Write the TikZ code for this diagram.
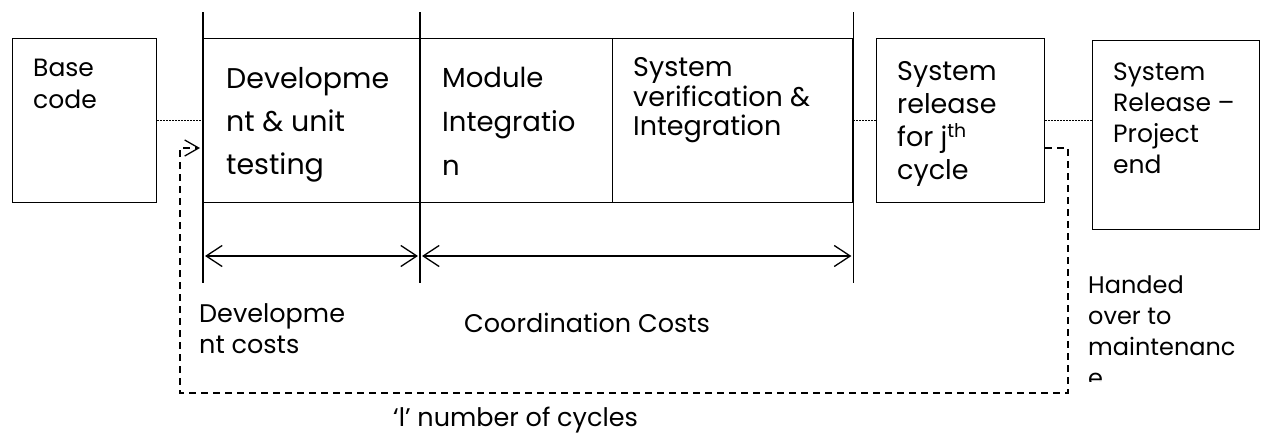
\documentclass[tikz,border=0pt]{standalone}
\usepackage{fontspec}
\setmainfont{Poppins}
\usetikzlibrary{
	positioning,
	arrows.meta
}
\tikzset{
	x=1pt,
	y=-1pt,
	box/.style={
		draw,
		line width=1.4pt,
		anchor=north west,
		inner sep=0pt
	},
	txt/.style 2 args={
		anchor=north west,
		inner sep=0pt,
		align=left,
		font=\fontsize{#1}{#2}\selectfont
	},
	oneline/.style={
		anchor=base west,
		inner sep=0pt,
		font=\fontsize{25.5}{30}\selectfont
	},
	rule/.style={
		line width=1.3pt
	},
	dots/.style={
		line width=1pt,
		dash pattern=on 1.2pt off 1.8pt
	},
	cycle line/.style={
		line width=1.2pt,
		dash pattern=on 7pt off 5pt,
		-{Straight Barb[length=14pt,width=16pt,line width=1.3pt]}
	},
	span/.style={
		line width=1.3pt,
		{Straight Barb[length=16pt,width=21pt]}-{Straight Barb[length=16pt,width=21pt]},
		shorten <=2pt,
		shorten >=2pt
	}
}

\begin{document}
\begin{tikzpicture}
	\useasboundingbox (0,0) rectangle (1261,434);

	% boxes
	\node[box,minimum width=144pt,minimum height=164pt] (base)    at (12,38)   {};
	\node[box,minimum width=217pt,minimum height=164pt] (dev)     at (203,38)  {};
	\node[box,minimum width=192pt,minimum height=164pt] (module)  at (420,38)  {};
	\node[box,minimum width=240pt,minimum height=164pt] (verif)   at (612,38)  {};
	\node[box,minimum width=168pt,minimum height=164pt] (release) at (876,38)  {};
	\node[box,minimum width=167pt,minimum height=189pt] (final)   at (1092,40) {};

	% texts of the boxes
	\node[txt={25}{32}]   (basetxt)    at (33,53.6)   {\strut Base\\code};
	\node[txt={28.5}{43}] (devtxt)     at (226,57.9)  {\strut Developme\\nt \& unit\\testing};
	\node[txt={27.5}{44}] (moduletxt)  at (442,56.2)  {\strut Module\\Integratio\\n};
	\node[txt={27}{29}]   (veriftxt)   at (633,55.7)  {\strut System\\verification \&\\Integration};
	\node[txt={27}{33}]   (releasetxt) at (897,56.9)  {\strut System\\release\\for j\textsuperscript{th}\\cycle};
	\node[txt={25}{31}]   (finaltxt)   at (1113,58.3) {\strut System\\Release --\\Project\\end};

	% phase limits
	\coordinate (top) at (0,12);
	\coordinate (bot) at (0,283);
	\coordinate (arr) at (0,256);
	\draw[rule] (dev.north west |- top) -- (dev.south west |- bot);
	\draw[rule] (module.north west |- top) -- (module.south west |- bot);
	\draw[rule] (verif.north east |- top) -- (verif.south east |- bot);

	% cost spans
	\draw[span] (dev.west |- arr) -- (module.west |- arr);
	\draw[span] (module.west |- arr) -- (verif.east |- arr);
	\node[txt={25.5}{31}] (devcost) at (199,300.3) {\strut Developme\\nt costs};
	\node[oneline] (coordcost) at (464,332) {Coordination Costs};

	% flow
	\coordinate (mid) at (0,120);
	\draw[dots] (base.east |- mid) -- (dev.west |- mid);
	\draw[dots] (verif.east |- mid) -- (release.west |- mid);
	\draw[dots] (release.east |- mid) -- (final.west |- mid);

	% repeated cycles
	\coordinate (back)  at (0,148);
	\coordinate (loopR) at (1068,393);
	\coordinate (loopL) at (180,393);
	\draw[cycle line,shorten >=3pt] (release.east |- back) -| (loopR) -| (loopL |- back) -- (dev.west |- back);
	\node[oneline] (cycles) at (393,426) {‘l’ number of cycles};

	\begin{scope}
		\clip (1080,260) rectangle (1261,381);
		\node[txt={24}{31}] (handed) at (1088,271.3) {\strut Handed\\over to\\maintenanc\\e};
	\end{scope}
\end{tikzpicture}
\end{document}
